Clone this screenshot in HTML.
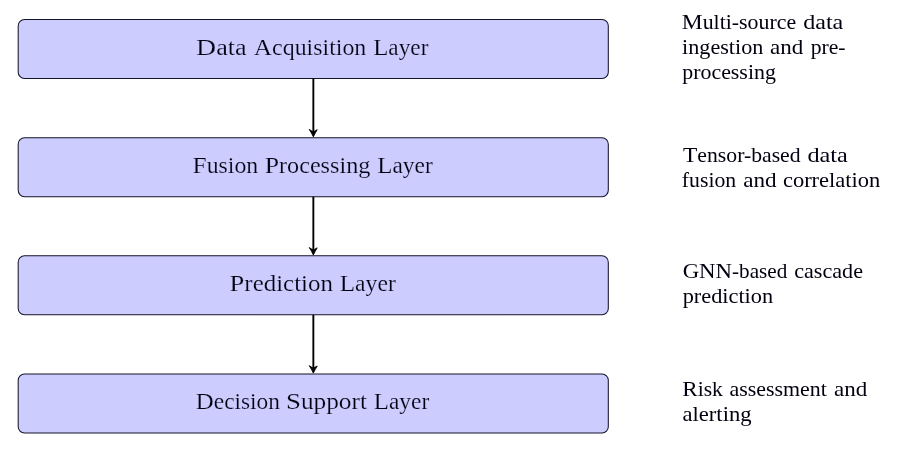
<!DOCTYPE html>
<html><head><meta charset="utf-8">
<style>
html,body{margin:0;padding:0;background:#fff;width:901px;height:450px;overflow:hidden}
svg{display:block;will-change:transform}
text{font-family:"Liberation Serif",serif;fill:#000010}
.b{stroke:#ccccff;stroke-width:0.2}
.s{stroke:none}
.b{font-size:22.6px}
.s{font-size:19.9px}
.Ub{font-size:24.0px}
.Us{font-size:21.4px}
</style></head><body>
<svg width="901" height="450" viewBox="0 0 901 450">
<g fill="#ccccff" stroke="#15152a" stroke-width="1.05">
<rect x="18.2" y="19.5" width="590.1" height="59" rx="6.3" ry="6.3"/>
<rect x="18.2" y="137.67" width="590.1" height="59" rx="6.3" ry="6.3"/>
<rect x="18.2" y="255.83" width="590.1" height="59" rx="6.3" ry="6.3"/>
<rect x="18.2" y="374" width="590.1" height="59" rx="6.3" ry="6.3"/>
</g>
<g stroke="#000" stroke-width="1.9">
<line x1="313.35" y1="78.5" x2="313.35" y2="133"/>
<line x1="313.35" y1="196.67" x2="313.35" y2="251"/>
<line x1="313.35" y1="314.83" x2="313.35" y2="369"/>
</g>
<g fill="#000" stroke="#000" stroke-width="0.9" stroke-linejoin="round" stroke-linecap="round">
<path d="M309.5 129.70 Q311.6 133.00 313.35 136.80 Q315.1 133.00 317.2 129.70 Q315 130.80 313.35 132.00 Q311.7 130.80 309.5 129.70 Z"/>
<path d="M309.5 247.85 Q311.6 251.15 313.35 254.95 Q315.1 251.15 317.2 247.85 Q315 248.95 313.35 250.15 Q311.7 248.95 309.5 247.85 Z"/>
<path d="M309.5 366.00 Q311.6 369.30 313.35 373.10 Q315.1 369.30 317.2 366.00 Q315 367.10 313.35 368.30 Q311.7 367.10 309.5 366.00 Z"/>
</g>

<text class="b" x="196.10" y="55.00" textLength="50.55" lengthAdjust="spacingAndGlyphs"><tspan class="Ub">D</tspan>ata</text>
<text class="b" x="253.81" y="55.00" textLength="112.52" lengthAdjust="spacingAndGlyphs"><tspan class="Ub">A</tspan>cquisition</text>
<text class="b" x="373.25" y="55.00" textLength="55.17" lengthAdjust="spacingAndGlyphs"><tspan class="Ub">L</tspan>ayer</text>
<text class="b" x="192.59" y="173.00" textLength="65.64" lengthAdjust="spacingAndGlyphs"><tspan class="Ub">F</tspan>usion</text>
<text class="b" x="264.68" y="173.00" textLength="105.72" lengthAdjust="spacingAndGlyphs"><tspan class="Ub">P</tspan>rocessing</text>
<text class="b" x="377.27" y="173.00" textLength="55.44" lengthAdjust="spacingAndGlyphs"><tspan class="Ub">L</tspan>ayer</text>
<text class="b" x="229.60" y="291.00" textLength="103.34" lengthAdjust="spacingAndGlyphs"><tspan class="Ub">P</tspan>rediction</text>
<text class="b" x="339.76" y="291.00" textLength="56.02" lengthAdjust="spacingAndGlyphs"><tspan class="Ub">L</tspan>ayer</text>
<text class="b" x="195.84" y="408.80" textLength="84.13" lengthAdjust="spacingAndGlyphs"><tspan class="Ub">D</tspan>ecision</text>
<text class="b" x="285.96" y="408.80" textLength="81.02" lengthAdjust="spacingAndGlyphs"><tspan class="Ub">S</tspan>upport</text>
<text class="b" x="373.83" y="408.80" textLength="55.34" lengthAdjust="spacingAndGlyphs"><tspan class="Ub">L</tspan>ayer</text>
<text class="s" x="681.78" y="28.60" textLength="114.36" lengthAdjust="spacingAndGlyphs"><tspan class="Us">M</tspan>ulti-source</text>
<text class="s" x="803.16" y="28.60" textLength="40.11" lengthAdjust="spacingAndGlyphs">data</text>
<text class="s" x="682.10" y="53.70" textLength="81.22" lengthAdjust="spacingAndGlyphs">ingestion</text>
<text class="s" x="770.10" y="53.70" textLength="33.24" lengthAdjust="spacingAndGlyphs">and</text>
<text class="s" x="810.70" y="53.70" textLength="34.90" lengthAdjust="spacingAndGlyphs">pre-</text>
<text class="s" x="682.26" y="78.80" textLength="93.60" lengthAdjust="spacingAndGlyphs">processing</text>
<text class="s" x="683.11" y="161.60" textLength="117.50" lengthAdjust="spacingAndGlyphs"><tspan class="Us">T</tspan>ensor-based</text>
<text class="s" x="807.40" y="161.60" textLength="40.36" lengthAdjust="spacingAndGlyphs">data</text>
<text class="s" x="681.89" y="187.20" textLength="54.32" lengthAdjust="spacingAndGlyphs">fusion</text>
<text class="s" x="743.21" y="187.20" textLength="33.46" lengthAdjust="spacingAndGlyphs">and</text>
<text class="s" x="782.91" y="187.20" textLength="97.41" lengthAdjust="spacingAndGlyphs">correlation</text>
<text class="s" x="682.67" y="277.60" textLength="104.58" lengthAdjust="spacingAndGlyphs"><tspan class="Us">G</tspan><tspan class="Us">N</tspan><tspan class="Us">N</tspan>-based</text>
<text class="s" x="794.26" y="277.60" textLength="68.72" lengthAdjust="spacingAndGlyphs">cascade</text>
<text class="s" x="682.66" y="303.30" textLength="90.47" lengthAdjust="spacingAndGlyphs">prediction</text>
<text class="s" x="682.20" y="395.80" textLength="40.61" lengthAdjust="spacingAndGlyphs"><tspan class="Us">R</tspan>isk</text>
<text class="s" x="729.49" y="395.80" textLength="97.40" lengthAdjust="spacingAndGlyphs">assessment</text>
<text class="s" x="834.04" y="395.80" textLength="33.24" lengthAdjust="spacingAndGlyphs">and</text>
<text class="s" x="682.51" y="421.00" textLength="69.01" lengthAdjust="spacingAndGlyphs">alerting</text>
</svg>
</body></html>
